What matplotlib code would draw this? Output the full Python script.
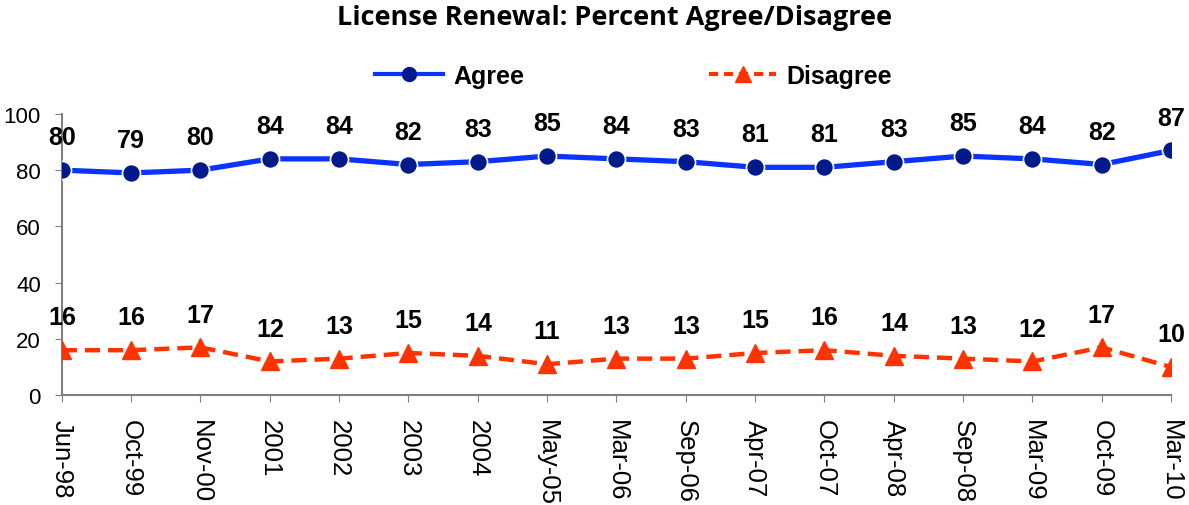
import matplotlib
matplotlib.use('Agg')
import matplotlib.pyplot as plt
from matplotlib.lines import Line2D

# Dados
periods = ['Jun-98', 'Oct-99', 'Nov-00', '2001', '2002', '2003', '2004', 'May-05',
           'Mar-06', 'Sep-06', 'Apr-07', 'Oct-07', 'Apr-08', 'Sep-08', 'Mar-09',
           'Oct-09', 'Mar-10']
agree = [80, 79, 80, 84, 84, 82, 83, 85, 84, 83, 81, 81, 83, 85, 84, 82, 87]
disagree = [16, 16, 17, 12, 13, 15, 14, 11, 13, 13, 15, 16, 14, 13, 12, 17, 10]

plt.rcParams['font.family'] = ['Liberation Sans', 'DejaVu Sans']

blue_line = '#0A33FF'
blue_mark = '#001A8C'
red = '#FF3300'
dash = (0, (3.4, 1.8))

fig = plt.figure(figsize=(11.89, 5.06), dpi=100)
ax = fig.add_axes([0.052, 0.217, 0.933, 0.556])

x = list(range(len(periods)))
ax.plot(x, agree, color=blue_line, lw=3.8, marker='o', ms=13,
        mfc=blue_mark, mec='white', mew=1.2, zorder=3)
ax.plot(x, disagree, color=red, lw=3.2, ls=dash, marker='^', ms=13,
        mfc=red, mec=red, zorder=3)

for xi, a, d in zip(x, agree, disagree):
    ax.annotate(str(a), (xi, a), xytext=(0, 15), textcoords='offset points',
                ha='center', va='bottom', fontsize=18, fontweight='bold')
    ax.annotate(str(d), (xi, d), xytext=(0, 15), textcoords='offset points',
                ha='center', va='bottom', fontsize=18, fontweight='bold')

ax.set_xlim(0, len(periods) - 1)
ax.set_ylim(0, 100)
ax.set_yticks([0, 20, 40, 60, 80, 100])
ax.set_xticks(x)
ax.set_xticklabels(periods, rotation=270, fontsize=18.5)
ax.tick_params(axis='y', labelsize=16, length=5, color='#808080', pad=10)
ax.tick_params(axis='x', length=5, color='#808080', pad=12)
for s in ['top', 'right']:
    ax.spines[s].set_visible(False)
for s in ['left', 'bottom']:
    ax.spines[s].set_color('#808080')
    ax.spines[s].set_linewidth(1.5)
ax.patch.set_alpha(0)

fig.suptitle('License Renewal: Percent Agree/Disagree', x=0.517, y=0.99,
             fontsize=19.5, fontweight='bold', family=['Open Sans', 'DejaVu Sans'])

handles = [
    Line2D([], [], color=blue_line, lw=3, marker='o', ms=10, mfc=blue_mark, mec=blue_mark),
    Line2D([], [], color=red, lw=3, ls=(0, (2.2, 1.4)), marker='^', ms=11, mfc=red, mec=red),
]
leg = fig.legend(handles, ['Agree', 'Disagree'], loc='center', bbox_to_anchor=(0.533, 0.848),
                 ncol=2, frameon=False, handlelength=2.7, handletextpad=0.4,
                 columnspacing=7.4, prop={'size': 18, 'weight': 'bold'})

fig.savefig('out.png', dpi=100)
